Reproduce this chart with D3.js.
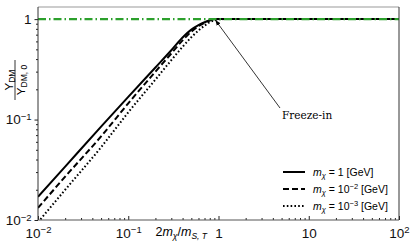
<!DOCTYPE html>
<html>
<head>
<meta charset="utf-8">
<script src="https://cdn.jsdelivr.net/npm/d3@7"></script>
<style>
  body { margin: 0; background: #fff; }
  svg { display: block; }
  .tick text { font-family: "Liberation Sans", Arial, sans-serif; font-size: 13.5px; fill: #111; }
  .domain { stroke: none; }
  .tick line { stroke: #222; }
</style>
</head>
<body>
<svg id="chart" width="415" height="245"></svg>
<script>
// ---- data ----
const xs = [0.01, 0.02, 0.05, 0.1, 0.2, 0.3, 0.4, 0.5, 0.6, 0.7, 0.8, 0.9, 1, 1.2, 2, 10, 100];
const ySolid  = [0.017, 0.034, 0.085, 0.168, 0.33, 0.49, 0.655, 0.785, 0.87, 0.93, 0.975, 0.995, 1, 1, 1, 1, 1];
const yDashed = [0.0132, 0.027, 0.068, 0.145, 0.3, 0.455, 0.615, 0.75, 0.85, 0.92, 0.97, 0.993, 1, 1, 1, 1, 1];
const yDotted = [0.0095, 0.02, 0.053, 0.118, 0.25, 0.39, 0.53, 0.66, 0.77, 0.86, 0.93, 0.975, 0.995, 1, 1, 1, 1];
const seriesNames = ["1", "10^-2", "10^-3"];
const xTicks = [0.01, 0.1, 1, 10, 100];
const xTickLabels = ["10^-2", "10^-1", "1", "10", "10^2"];
const yTicks = [0.01, 0.1, 1];
const yTickLabels = ["10^-2", "10^-1", "1"];
const refLevel = 1;

const MARGIN = { LEFT: 38, RIGHT: 16, TOP: 7, BOTTOM: 25 };
const W = 415, H = 245;

const svg = d3.select("#chart");

const x = d3.scaleLog().domain([0.01, 100]).range([MARGIN.LEFT, W - MARGIN.RIGHT]);
const y = d3.scaleLog().domain([0.01, 1.32]).range([H - MARGIN.BOTTOM, MARGIN.TOP]);

// minor tick values for log axes
function minors(lo, hi) {
  const out = [];
  for (let p = Math.log10(lo); p < Math.log10(hi); p++) {
    for (let k = 2; k <= 9; k++) out.push(k * Math.pow(10, p));
  }
  return out;
}

// label like 10^-2 as text with superscript
function supLabel(sel, labels, vals) {
  sel.each(function (d) {
    const t = d3.select(this);
    const lab = labels[vals.indexOf(d)];
    t.text(null);
    const parts = lab.split("^");
    t.append("tspan").text(parts[0]);
    if (parts[1]) {
      t.append("tspan").attr("dy", "-0.45em").style("font-size", "9.5px").text(parts[1].replace("-", "\u2212"));
    }
  });
}

svg.append("defs").append("clipPath").attr("id", "plot-clip")
  .append("rect")
  .attr("x", MARGIN.LEFT).attr("y", MARGIN.TOP)
  .attr("width", W - MARGIN.LEFT - MARGIN.RIGHT)
  .attr("height", H - MARGIN.TOP - MARGIN.BOTTOM);

// axes
const gx = svg.append("g").attr("transform", `translate(0,${H - MARGIN.BOTTOM})`)
  .call(d3.axisBottom(x).tickValues(xTicks).tickSizeInner(-4).tickSizeOuter(0).tickPadding(8));
gx.selectAll(".tick text").call(supLabel, xTickLabels, xTicks);
svg.append("g").attr("transform", `translate(0,${H - MARGIN.BOTTOM})`)
  .call(d3.axisBottom(x).tickValues(minors(0.01, 100)).tickSizeInner(-2).tickSizeOuter(0).tickFormat(""));

const gy = svg.append("g").attr("transform", `translate(${MARGIN.LEFT},0)`)
  .call(d3.axisLeft(y).tickValues(yTicks).tickSize(3.5).tickPadding(3));
gy.selectAll(".tick text").call(supLabel, yTickLabels, yTicks);
svg.append("g").attr("transform", `translate(${MARGIN.LEFT},0)`)
  .call(d3.axisLeft(y).tickValues(minors(0.01, 1)).tickSize(2).tickFormat(""));

// curves
const line = d3.line().x((d) => x(d[0])).y((d) => y(d[1])).curve(d3.curveMonotoneX);
const curves = [
  { vals: ySolid, dash: null, width: 2 },
  { vals: yDashed, dash: "6,3", width: 2 },
  { vals: yDotted, dash: "1.6,2.2", width: 2 },
];
const plot = svg.append("g").attr("clip-path", "url(#plot-clip)");
curves.forEach((c) => {
  plot.append("path")
    .datum(xs.map((v, i) => [v, c.vals[i]]))
    .attr("d", line)
    .attr("fill", "none")
    .attr("stroke", "#000")
    .attr("stroke-width", c.width)
    .attr("stroke-dasharray", c.dash);
});

// green reference line at Y/Y0 = 1, drawn over the saturated curves
plot.append("line")
  .attr("x1", x(0.01)).attr("x2", x(100))
  .attr("y1", y(refLevel)).attr("y2", y(refLevel))
  .attr("stroke", "#2ca02c")
  .attr("stroke-width", 2.4)
  .attr("stroke-dasharray", "8,3,1.5,3");

// frame
svg.append("line").attr("x1", MARGIN.LEFT).attr("x2", W - MARGIN.RIGHT)
  .attr("y1", MARGIN.TOP).attr("y2", MARGIN.TOP).attr("stroke", "#999").attr("stroke-width", 1);
svg.append("line").attr("x1", W - MARGIN.RIGHT).attr("x2", W - MARGIN.RIGHT)
  .attr("y1", MARGIN.TOP).attr("y2", H - MARGIN.BOTTOM).attr("stroke", "#333").attr("stroke-width", 1);
svg.append("line").attr("x1", MARGIN.LEFT).attr("x2", MARGIN.LEFT)
  .attr("y1", MARGIN.TOP).attr("y2", H - MARGIN.BOTTOM).attr("stroke", "#333").attr("stroke-width", 1);
svg.append("line").attr("x1", MARGIN.LEFT).attr("x2", W - MARGIN.RIGHT)
  .attr("y1", H - MARGIN.BOTTOM).attr("y2", H - MARGIN.BOTTOM).attr("stroke", "#555").attr("stroke-width", 1);

// arrow annotation
svg.append("defs").append("marker")
  .attr("id", "arrowhead").attr("viewBox", "0 0 10 10")
  .attr("refX", 10).attr("refY", 5)
  .attr("markerWidth", 7).attr("markerHeight", 7)
  .attr("orient", "auto")
  .append("path").attr("d", "M0,1 L10,5 L0,9 Z").attr("fill", "#000");
svg.append("line")
  .attr("x1", 280).attr("y1", 108)
  .attr("x2", x(0.9) + 1).attr("y2", y(1) + 1)
  .attr("stroke", "#000").attr("stroke-width", 0.8)
  .attr("marker-end", "url(#arrowhead)");
svg.append("text")
  .attr("x", 282).attr("y", 119)
  .style("font-family", "'DejaVu Serif', serif").style("font-size", "10.5px")
  .text("Freeze-in");

// axis labels
const xl = svg.append("text")
  .attr("x", 207).attr("y", 236)
  .attr("text-anchor", "end")
  .style("font-family", "'Liberation Sans', Arial, sans-serif").style("font-size", "12.5px");
xl.append("tspan").text("2");
xl.append("tspan").style("font-style", "italic").text("m");
xl.append("tspan").attr("dy", 3).style("font-size", "8.5px").style("font-style", "italic").text("\u03c7");
xl.append("tspan").attr("dy", -3).text("/");
xl.append("tspan").style("font-style", "italic").text("m");
xl.append("tspan").attr("dy", 3).style("font-size", "8.5px").style("font-style", "italic").text("S, T");

const yl = svg.append("g").attr("transform", "translate(15,80) rotate(-90)")
  .style("font-family", "'Liberation Sans', Arial, sans-serif");
const num = yl.append("text").attr("x", 0).attr("y", -2.5).attr("text-anchor", "middle").style("font-size", "11.5px");
num.append("tspan").text("Y");
num.append("tspan").attr("dy", 2).style("font-size", "8.5px").text("DM");
yl.append("line").attr("x1", -20).attr("x2", 20).attr("y1", 0).attr("y2", 0).attr("stroke", "#000").attr("stroke-width", 0.8);
const den = yl.append("text").attr("x", 0).attr("y", 10).attr("text-anchor", "middle").style("font-size", "11.5px");
den.append("tspan").text("Y");
den.append("tspan").attr("dy", 2).style("font-size", "8.5px").text("DM, 0");

// legend (lower right)
const legendY = [172, 189, 206];
const legend = svg.append("g");
curves.forEach((c, i) => {
  legend.append("line")
    .attr("x1", 283).attr("x2", 305)
    .attr("y1", legendY[i]).attr("y2", legendY[i])
    .attr("stroke", "#000").attr("stroke-width", c.width)
    .attr("stroke-dasharray", c.dash);
  const t = legend.append("text")
    .attr("x", 313).attr("y", legendY[i] + 3.5)
    .style("font-family", "'Liberation Sans', Arial, sans-serif").style("font-size", "10.5px");
  t.append("tspan").style("font-style", "italic").text("m");
  t.append("tspan").attr("dy", 2).style("font-size", "7.5px").style("font-style", "italic").text("\u03c7");
  t.append("tspan").attr("dy", -2).text(" = ");
  const parts = seriesNames[i].split("^");
  t.append("tspan").text(parts[0]);
  if (parts[1]) {
    t.append("tspan").attr("dy", -4).style("font-size", "7.5px").text(parts[1].replace("-", "\u2212"));
    t.append("tspan").attr("dy", 4).text(" [GeV]");
  } else {
    t.append("tspan").text(" [GeV]");
  }
});
</script>
</body>
</html>
